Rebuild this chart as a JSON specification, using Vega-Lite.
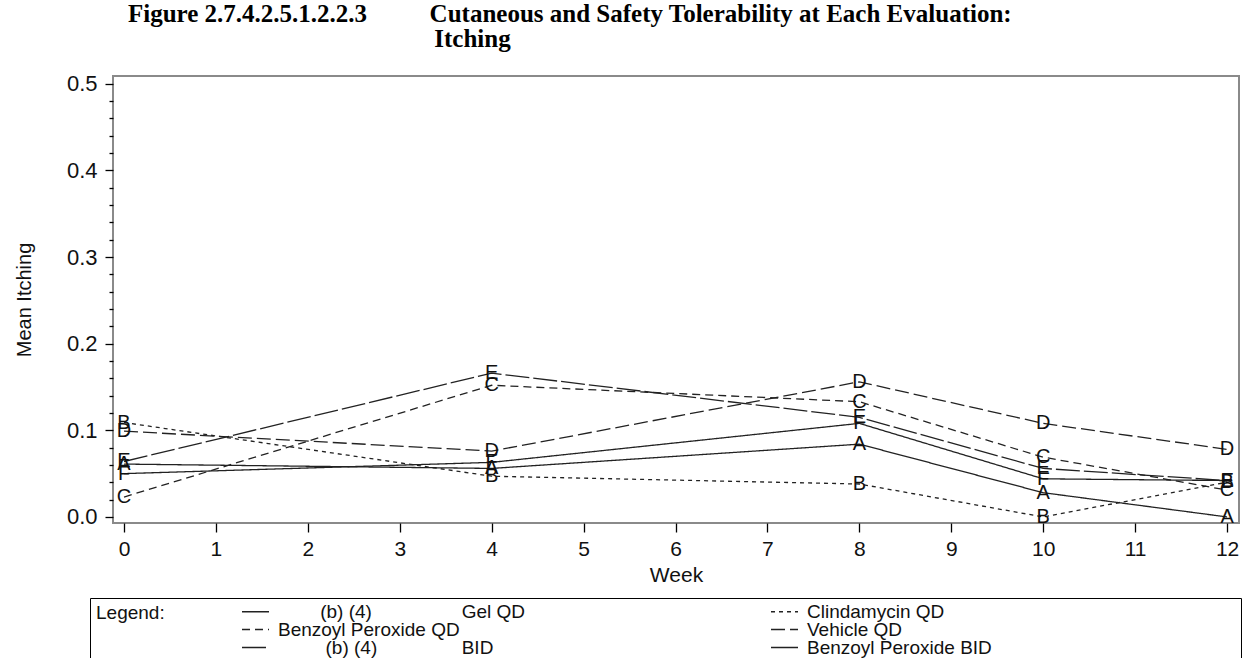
{
  "$schema": "https://vega.github.io/schema/vega-lite/v6.json",
  "width": 1126,
  "height": 447,
  "autosize": {"type": "none"},
  "padding": {"left": 113, "top": 76, "right": 12, "bottom": 135},
  "background": "white",
  "config": {
    "view": {"stroke": "#8a8a8a", "strokeWidth": 2},
    "font": "Liberation Sans"
  },
  "title": {
    "text": [
      "Figure 2.7.4.2.5.1.2.2.3\u00a0\u00a0\u00a0\u00a0\u00a0\u00a0\u00a0\u00a0\u00a0\u00a0Cutaneous and Safety Tolerability at Each Evaluation:",
      "\u200b\u00a0\u00a0\u00a0\u00a0\u00a0\u00a0\u00a0\u00a0\u00a0\u00a0\u00a0\u00a0\u00a0\u00a0\u00a0\u00a0\u00a0\u00a0\u00a0\u00a0\u00a0\u00a0\u00a0\u00a0\u00a0\u00a0\u00a0\u00a0\u00a0\u00a0\u00a0\u00a0\u00a0\u00a0\u00a0\u00a0\u00a0\u00a0\u00a0\u00a0\u00a0\u00a0\u00a0\u00a0\u00a0\u00a0\u00a0\u00a0\u00a0Itching"
    ],
    "font": "Liberation Serif",
    "fontSize": 25,
    "fontWeight": "bold",
    "color": "#000",
    "anchor": "start",
    "align": "left",
    "frame": "group",
    "dx": 15,
    "dy": 28,
    "offset": 24,
    "baseline": "bottom",
    "lineHeight": 25
  },
  "data": {
    "values": [
      {"series": "A", "week": 0, "value": 0.061},
      {"series": "A", "week": 4, "value": 0.056},
      {"series": "A", "week": 8, "value": 0.084},
      {"series": "A", "week": 10, "value": 0.028},
      {"series": "A", "week": 12, "value": 0.0},
      {"series": "B", "week": 0, "value": 0.109},
      {"series": "B", "week": 4, "value": 0.047},
      {"series": "B", "week": 8, "value": 0.038},
      {"series": "B", "week": 10, "value": 0.0},
      {"series": "B", "week": 12, "value": 0.04},
      {"series": "C", "week": 0, "value": 0.023},
      {"series": "C", "week": 4, "value": 0.152},
      {"series": "C", "week": 8, "value": 0.133},
      {"series": "C", "week": 10, "value": 0.069},
      {"series": "C", "week": 12, "value": 0.031},
      {"series": "D", "week": 0, "value": 0.099},
      {"series": "D", "week": 4, "value": 0.076},
      {"series": "D", "week": 8, "value": 0.156},
      {"series": "D", "week": 10, "value": 0.108},
      {"series": "D", "week": 12, "value": 0.078},
      {"series": "E", "week": 0, "value": 0.064},
      {"series": "E", "week": 4, "value": 0.166},
      {"series": "E", "week": 8, "value": 0.115},
      {"series": "E", "week": 10, "value": 0.056},
      {"series": "E", "week": 12, "value": 0.042},
      {"series": "F", "week": 0, "value": 0.05},
      {"series": "F", "week": 4, "value": 0.063},
      {"series": "F", "week": 8, "value": 0.108},
      {"series": "F", "week": 10, "value": 0.044},
      {"series": "F", "week": 12, "value": 0.042}
    ]
  },
  "encoding": {
    "x": {
      "field": "week",
      "type": "quantitative",
      "scale": {"domain": [-0.12, 12.13], "nice": false, "zero": false},
      "axis": {
        "values": [0, 1, 2, 3, 4, 5, 6, 7, 8, 9, 10, 11, 12],
        "grid": false,
        "domain": false,
        "tickSize": 9,
        "tickColor": "#000",
        "tickWidth": 1.3,
        "labelPadding": 6,
        "labelFontSize": 21,
        "labelColor": "#111",
        "labelFont": "Liberation Sans",
        "title": "Week",
        "titleFont": "Liberation Sans",
        "titleFontSize": 21,
        "titleFontWeight": "normal",
        "titleColor": "#111",
        "titlePadding": 5
      }
    },
    "y": {
      "field": "value",
      "type": "quantitative",
      "scale": {"domain": [-0.007, 0.509], "nice": false, "zero": false},
      "axis": {
        "values": [0, 0.02, 0.04, 0.06, 0.08, 0.1, 0.12, 0.14, 0.16, 0.18, 0.2, 0.22, 0.24, 0.26, 0.28, 0.3, 0.32, 0.34, 0.36, 0.38, 0.4, 0.42, 0.44, 0.46, 0.48, 0.5],
        "grid": false,
        "domain": false,
        "tickColor": "#000",
        "tickWidth": 1.3,
        "tickSize": {"condition": {"test": "abs(datum.value * 10 - round(datum.value * 10)) < 0.000001", "value": 8}, "value": 4},
        "labelExpr": "abs(datum.value * 10 - round(datum.value * 10)) < 0.000001 ? format(datum.value, '.1f') : ''",
        "labelPadding": 8,
        "labelFontSize": 22,
        "labelColor": "#111",
        "labelFont": "Liberation Sans",
        "title": "Mean Itching",
        "titleFont": "Liberation Sans",
        "titleFontSize": 20,
        "titleFontWeight": "normal",
        "titleColor": "#111",
        "titlePadding": 32
      }
    }
  },
  "layer": [
    {
      "mark": {"type": "line", "color": "#222", "strokeWidth": 1.3},
      "encoding": {
        "strokeDash": {
          "field": "series",
          "type": "nominal",
          "scale": {
            "domain": ["A", "B", "C", "D", "E", "F"],
            "range": [[1, 0], [4, 4], [8, 5], [14, 5], [24, 4], [1, 0]]
          },
          "legend": {
            "orient": "none",
            "legendX": -23,
            "legendY": 522,
            "direction": "horizontal",
            "columns": 2,
            "columnPadding": 244,
            "rowPadding": -8,
            "clipHeight": 15,
            "padding": 6,
            "strokeColor": "#000",
            "fillColor": "#fff",
            "title": "Legend:",
            "titleOrient": "left",
            "titleAnchor": "start",
            "titleFont": "Liberation Sans",
            "titleFontSize": 19,
            "titleFontWeight": "normal",
            "titleColor": "#111",
            "titlePadding": 76,
            "titleBaseline": "top",
            "symbolType": "stroke",
            "symbolSize": 729,
            "symbolStrokeWidth": 1.3,
            "symbolStrokeColor": "#222",
            "labelOffset": 8,
            "labelFont": "Liberation Sans",
            "labelFontSize": 19,
            "labelColor": "#111",
            "labelLimit": 800,
            "labelExpr": "datum.label == 'A' ? '\u200b\u00a0\u00a0\u00a0\u00a0\u00a0\u00a0\u00a0\u00a0(b) (4)\u00a0\u00a0\u00a0\u00a0\u00a0\u00a0\u00a0\u00a0\u00a0\u00a0\u00a0\u00a0\u00a0\u00a0\u00a0\u00a0\u00a0Gel QD' : datum.label == 'B' ? 'Clindamycin QD\u00a0\u00a0\u00a0\u00a0\u00a0\u00a0\u00a0\u00a0\u00a0\u00a0\u00a0\u00a0\u00a0\u00a0\u00a0\u00a0\u00a0\u00a0\u00a0\u00a0\u00a0\u00a0\u00a0\u00a0\u00a0\u00a0\u00a0\u00a0\u00a0\u00a0\u00a0\u00a0\u00a0\u00a0\u00a0\u00a0\u00a0\u00a0\u00a0\u00a0\u00a0\u00a0\u00a0\u00a0\u00a0\u00a0\u00a0\u00a0\u00a0\u00a0\u00a0\u00a0\u00a0\u00a0\u00a0\u200b' : datum.label == 'C' ? 'Benzoyl Peroxide QD' : datum.label == 'D' ? 'Vehicle QD' : datum.label == 'E' ? '\u200b\u00a0\u00a0\u00a0\u00a0\u00a0\u00a0\u00a0\u00a0\u00a0(b) (4)\u00a0\u00a0\u00a0\u00a0\u00a0\u00a0\u00a0\u00a0\u00a0\u00a0\u00a0\u00a0\u00a0\u00a0\u00a0\u00a0BID' : 'Benzoyl Peroxide BID'"
          }
        }
      }
    },
    {
      "mark": {"type": "text", "fontSize": 20, "color": "#111", "baseline": "middle", "align": "center", "font": "Liberation Sans"},
      "encoding": {
        "text": {"field": "series", "type": "nominal"}
      }
    }
  ]
}
